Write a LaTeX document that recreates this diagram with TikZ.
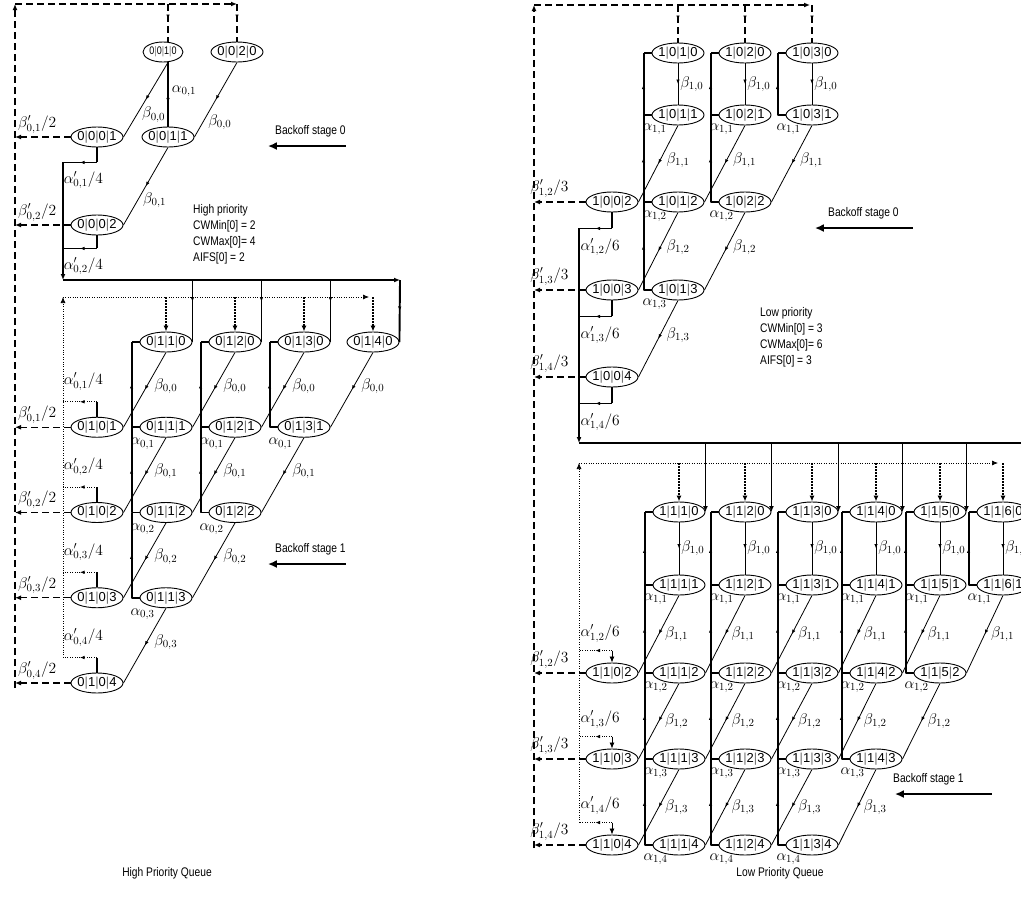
\documentclass[tikz,border=0pt]{standalone}
\usepackage{fix-cm}
\usepackage{amsmath}
\usepackage{fontspec}
\usepackage{xcolor}
\usetikzlibrary{arrows.meta, positioning, calc, shapes.geometric, decorations.markings}
\newfontfamily\statefont{Liberation Sans}
\newfontfamily\narrowfont[FakeStretch=0.82]{Liberation Sans}
\newcommand{\vb}{\textcolor{black!55}{|}}

\tikzset{
  st/.style={draw, ellipse, line width=0.9pt, minimum width=52pt, minimum height=20pt,
    inner sep=-6pt, font=\statefont\fontsize{13}{14}\selectfont},
  thk/.style={line width=1.9pt},
  thn/.style={line width=0.8pt},
  dsh/.style={line width=1.3pt, dash pattern=on 7pt off 4pt},
  dtt/.style={line width=0.7pt, dash pattern=on 0.8pt off 1.6pt},
  dtarr/.style={line width=1.8pt, dash pattern=on 1.6pt off 1.4pt, -{Latex[length=6pt,width=5pt]}},
  endtip/.style={-{Latex[length=6pt,width=5pt]}},
  bigtip/.style={line width=2.2pt, -{Latex[length=9pt,width=8pt]}},
  midarr/.style={postaction={decorate}, decoration={markings,
    mark=at position #1 with {\arrow{Latex[length=4.5pt,width=3.5pt]}}}},
  midarr/.default=0.5,
  lbl/.style={font=\fontsize{15.5}{17}\selectfont, inner sep=0pt},
  txt/.style={font=\narrowfont\fontsize{12.5}{16}\selectfont, align=left, inner sep=0pt},
}

\begin{document}
\begin{tikzpicture}[x=1pt, y=-1pt, line join=round]
\useasboundingbox (0,0) rectangle (1021,913);

% ---------- hohe Prioritaet ----------
\coordinate (hL) at (15,0);
\coordinate (hB) at (63,0);
\coordinate (hT) at (0,4);
\coordinate (hH) at (0,280);
\coordinate (hD) at (0,297);
\coordinate (hRetB) at (15,688);
\coordinate (hRetT) at (15,4);
\coordinate (hTopR) at (237,4);
\coordinate (hHR) at (400,280);
\coordinate (hDR) at (369,297);

% Stufe 0
\node[st, minimum width=40pt, font=\narrowfont\fontsize{11}{12}\selectfont] (h0-1-0) at (163,52) {0\vb0\vb1\vb0};
\node[st] (h0-2-0) at (237,52) {0\vb0\vb2\vb0};
\node[st] (h0-0-1) at (97,137) {0\vb0\vb0\vb1};
\node[st] (h0-1-1) at (168,137) {0\vb0\vb1\vb1};
\node[st] (h0-0-2) at (97,225) {0\vb0\vb0\vb2};

% Stufe 1
\foreach \r/\cmin/\cmax in {0/1/4,1/0/3,2/0/2,3/0/1,4/0/0}
  \foreach \c in {\cmin,...,\cmax}
    \node[st] (h1-\c-\r) at ({97+69*\c},{342+85.25*\r}) {0\vb1\vb\c\vb\r};

% Rueckfuehrung oben
\draw[dsh, endtip] (hRetB) -- (hRetT);
\draw[dsh, endtip] (hRetT) -- (hTopR);
\draw[dsh, midarr=0.4] (hTopR) -- (h0-2-0.north);
\draw[dsh, midarr=0.4] (h0-1-1.north |- hT) -- (h0-1-1.north |- h0-1-0.north);

% Uebergaenge Stufe 0
\draw[thk, midarr] (h0-1-1.north) -- (h0-1-1.north |- h0-1-0.south) node[lbl, pos=0.55, right=3pt] {$\alpha_{0,1}$};
\draw[thn, midarr] (h0-1-1.north |- h0-1-0.south) -- (h0-0-1.east) node[lbl, pos=0.7, right=5pt] {$\beta_{0,0}$};
\draw[thn, midarr] (h0-2-0.south) -- (h0-1-1.east) node[lbl, pos=0.8, right=5pt] {$\beta_{0,0}$};
\draw[thn, midarr] (h0-1-1.south) -- (h0-0-2.east) node[lbl, pos=0.68, right=5pt] {$\beta_{0,1}$};
\foreach \r in {1,2}
  \draw[dsh, endtip] (h0-0-\r.west) -- (h0-0-\r.west -| hL) node[lbl, pos=0.6, above=3pt] {$\beta'_{0,\r}/2$};
\draw[thk] (h0-0-1.south) -- ++(0,15) coordinate (ha-1);
\draw[thk] (h0-0-2.south) -- ++(0,13) coordinate (ha-2);
\foreach \r in {1,2}
  \draw[thk, midarr] (ha-\r) -- (ha-\r -| hB) node[lbl, pos=0.4, below=8pt] {$\alpha'_{0,\r}/4$};

% Sammelleitung zur Stufe 1
\draw[thk, endtip] (ha-1 -| hB) -- (hB |- hH);
\draw[thk, endtip] (hB |- hH) -- (hHR);
\draw[thk, midarr] (hHR) -- (h1-4-0.east);
\foreach \c in {1,2,3} {
  \draw[thk, midarr=0.35] (h1-\c-0.east |- hH) -- (h1-\c-0.east);
  \draw[dtarr] (h1-\c-0.north |- hD) -- (h1-\c-0.north);
}
\draw[dtarr] (h1-4-0.north |- hD) -- (h1-4-0.north);

% Uebergaenge Stufe 1
\foreach \r/\cmax in {0/4,1/3,2/2,3/1} {
  \foreach \c in {1,...,\cmax} {
    \pgfmathtruncatemacro\d{\c-1}
    \pgfmathtruncatemacro\s{\r+1}
    \draw[thn, midarr] (h1-\c-\r.south) -- (h1-\d-\s.east) node[lbl, pos=0.45, right=7pt] {$\beta_{0,\r}$};
  }
}
\foreach \c/\rmax in {1/3,2/2,3/1} {
  \draw[thk] (h1-\c-0.west) -- ++(-8,0);
  \foreach \r in {1,...,\rmax} {
    \pgfmathtruncatemacro\p{\r-1}
    \draw[thk, midarr=0.55] (h1-\c-\r.west) node[lbl, below=10pt, xshift=3pt] {$\alpha_{0,\r}$} -- ++(-8,0) coordinate (hv) -- (hv |- h1-\c-\p.west);
  }
}
\foreach \r in {1,...,4} {
  \draw[thk] (h1-0-\r.north) -- ++(0,-15) coordinate (hq-\r);
  \draw[dtt, midarr] (hq-\r) -- (hq-\r -| hB) node[lbl, pos=0.4, above=11pt] {$\alpha'_{0,\r}/4$};
  \draw[dsh, endtip] (h1-0-\r.west) -- (h1-0-\r.west -| hL) node[lbl, pos=0.6, above=3pt] {$\beta'_{0,\r}/2$};
}
\draw[dtt, endtip] (hq-4 -| hB) -- (hB |- hD);
\draw[dtt, endtip] (hB |- hD) -- (hDR);

% Texte
\node[txt, anchor=west] (hinfo) at (193,234) {High priority\\CWMin[0] = 2\\CWMax[0]= 4\\AIFS[0] = 2};
\node[txt, anchor=west] (hbk0) at (275,131) {Backoff stage 0};
\draw[bigtip] ([yshift=-9pt]hbk0.south east) -- ([xshift=-78pt,yshift=-9pt]hbk0.south east);
\node[txt, anchor=west] (hbk1) at (275,549) {Backoff stage 1};
\draw[bigtip] ([yshift=-9pt]hbk1.south east) -- ([xshift=-78pt,yshift=-9pt]hbk1.south east);
\node[txt] (hname) at (167,873) {High Priority Queue};

% ---------- niedrige Prioritaet ----------
\coordinate (lL) at (534,0);
\coordinate (lB) at (579,0);
\coordinate (lT) at (0,5);
\coordinate (lH) at (0,443);
\coordinate (lD) at (0,463);
\coordinate (lRetB) at (534,848);
\coordinate (lRetT) at (534,5);
\coordinate (lTopR) at (810,5);
\coordinate (lHR) at (1028,443);
\coordinate (lDR) at (998,463);

% Stufe 0
\foreach \r/\cmin/\cmax in {0/1/3,1/1/3,2/0/2,3/0/1,4/0/0}
  \foreach \c in {\cmin,...,\cmax} {
    \pgfmathsetmacro\xx{{612,678,745,812}[\c]}
    \pgfmathsetmacro\yy{{53,115,202,290,377}[\r]}
    \node[st] (l0-\c-\r) at (\xx,\yy) {1\vb0\vb\c\vb\r};
  }

% Stufe 1
\foreach \r/\cmin/\cmax in {0/1/6,1/1/6,2/0/5,3/0/4,4/0/3}
  \foreach \c in {\cmin,...,\cmax} {
    \pgfmathsetmacro\xx{{612,679,745,812,876,940,1003}[\c]}
    \pgfmathsetmacro\yy{{512,585,673,759,845}[\r]}
    \node[st] (l1-\c-\r) at (\xx,\yy) {1\vb1\vb\c\vb\r};
  }

% Rueckfuehrung oben
\draw[dsh, endtip] (lRetB) -- (lRetT);
\draw[dsh, endtip] (lRetT) -- (lTopR);
\foreach \c in {1,2,3}
  \draw[dsh, midarr=0.4] (l0-\c-0.north |- lT) -- (l0-\c-0.north);

% Uebergaenge Stufe 0
\foreach \c in {1,2,3}
  \draw[thn, midarr] (l0-\c-0.south) -- (l0-\c-1.north) node[lbl, midway, right=2pt] {$\beta_{1,0}$};
\foreach \r/\cmax in {1/3,2/2,3/1} {
  \foreach \c in {1,...,\cmax} {
    \pgfmathtruncatemacro\d{\c-1}
    \pgfmathtruncatemacro\s{\r+1}
    \draw[thn, midarr] (l0-\c-\r.south) -- (l0-\d-\s.east) node[lbl, pos=0.45, right=6pt] {$\beta_{1,\r}$};
  }
}
\foreach \c/\rmax in {1/3,2/2,3/1} {
  \draw[thk] (l0-\c-0.west) -- ++(-8,0);
  \foreach \r in {1,...,\rmax} {
    \pgfmathtruncatemacro\p{\r-1}
    \draw[thk, midarr=0.55] (l0-\c-\r.west) node[lbl, below=8pt, xshift=3pt] {$\alpha_{1,\r}$} -- ++(-8,0) coordinate (lv) -- (lv |- l0-\c-\p.west);
  }
}
\foreach \r in {2,3,4} {
  \draw[thk] (l0-0-\r.south) -- ++(0,16) coordinate (lq-\r);
  \draw[thk, midarr] (lq-\r) -- (lq-\r -| lB) node[lbl, pos=0.36, below=9pt] {$\alpha'_{1,\r}/6$};
  \draw[dsh, endtip] (l0-0-\r.west) -- (l0-0-\r.west -| lL) node[lbl, pos=0.7, above=4pt] {$\beta'_{1,\r}/3$};
}

% Sammelleitung zur Stufe 1
\draw[thk, endtip] (lq-2 -| lB) -- (lB |- lH);
\draw[thk] (lB |- lH) -- (lHR);
\draw[thk, endtip] (lHR) -- (l1-6-0.east);
\foreach \c in {1,...,5}
  \draw[thk, endtip] (l1-\c-0.east |- lH) -- (l1-\c-0.east);
\foreach \c in {1,...,6}
  \draw[dtarr] (l1-\c-0.north |- lD) -- (l1-\c-0.north);

% Uebergaenge Stufe 1
\foreach \c in {1,...,6}
  \draw[thn, midarr] (l1-\c-0.south) -- (l1-\c-1.north) node[lbl, midway, right=2pt] {$\beta_{1,0}$};
\foreach \r/\cmax in {1/6,2/5,3/4} {
  \foreach \c in {1,...,\cmax} {
    \pgfmathtruncatemacro\d{\c-1}
    \pgfmathtruncatemacro\s{\r+1}
    \draw[thn, midarr] (l1-\c-\r.south) -- (l1-\d-\s.east) node[lbl, pos=0.5, right=6pt] {$\beta_{1,\r}$};
  }
}
\foreach \c/\rmax in {1/4,2/4,3/4,4/3,5/2,6/1} {
  \draw[thk] (l1-\c-0.west) -- ++(-8,0);
  \foreach \r in {1,...,\rmax} {
    \pgfmathtruncatemacro\p{\r-1}
    \draw[thk, midarr=0.55] (l1-\c-\r.west) node[lbl, below=8pt, xshift=3pt] {$\alpha_{1,\r}$} -- ++(-8,0) coordinate (lv) -- (lv |- l1-\c-\p.west);
  }
}
\foreach \r in {2,3,4} {
  \draw[thn, endtip] (l1-0-\r.north) ++(0,-12) coordinate (lp-\r) -- (l1-0-\r.north);
  \draw[dtt, midarr] (lp-\r) -- (lp-\r -| lB) node[lbl, pos=0.36, above=8pt] {$\alpha'_{1,\r}/6$};
  \draw[dsh, endtip] (l1-0-\r.west) -- (l1-0-\r.west -| lL) node[lbl, pos=0.7, above=4pt] {$\beta'_{1,\r}/3$};
}
\draw[dtt, endtip] (lp-4 -| lB) -- (lB |- lD);
\draw[dtt, endtip] (lB |- lD) -- (lDR);

% Texte
\node[txt, anchor=west] (linfo) at (760,337) {Low priority\\CWMin[0] = 3\\CWMax[0]= 6\\AIFS[0] = 3};
\node[txt, anchor=west] (lbk0) at (828,213) {Backoff stage 0};
\draw[bigtip] ([xshift=14pt,yshift=-9pt]lbk0.south east) -- ([xshift=-84pt,yshift=-9pt]lbk0.south east);
\node[txt, anchor=west] (lbk1) at (893,779) {Backoff stage 1};
\draw[bigtip] ([xshift=28pt,yshift=-9pt]lbk1.south east) -- ([xshift=-69pt,yshift=-9pt]lbk1.south east);
\node[txt] (lname) at (780,873) {Low Priority Queue};
\end{tikzpicture}
\end{document}
